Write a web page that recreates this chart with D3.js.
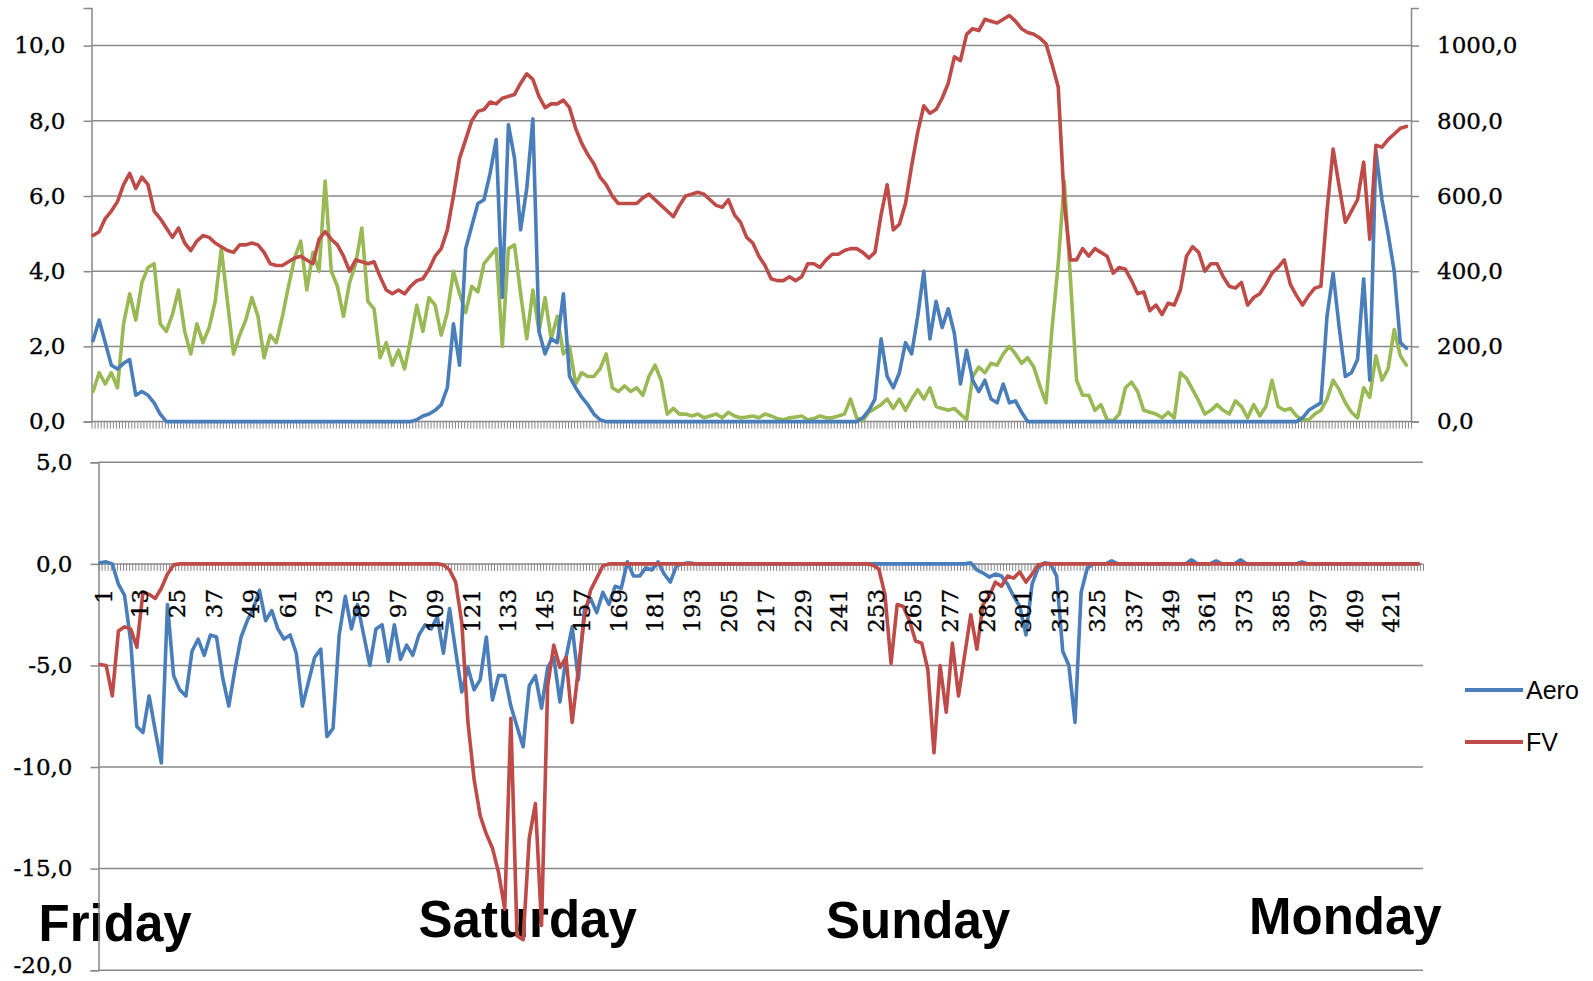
<!DOCTYPE html>
<html>
<head>
<meta charset="utf-8">
<script src="https://cdn.jsdelivr.net/npm/d3@7"></script>
<style>
  body { margin: 0; background: #fff; }
  svg { display: block; }
</style>
</head>
<body>
<script>
// ---- data: one sample every 2nd category (categories 1..432) ----
var nCategories = 432;
var sampleStep = 2;

// top panel, left axis (blue / green), right axis (red)
var blueTop = [
  2.15,2.7,2.1,1.5,1.4,1.55,1.65,0.7,0.8,0.7,
  0.5,0.2,0,0,0,0,0,0,0,0,
  0,0,0,0,0,0,0,0,0,0,
  0,0,0,0,0,0,0,0,0,0,
  0,0,0,0,0,0,0,0,0,0,
  0,0,0,0.05,0.15,0.2,0.3,0.45,0.9,2.6,
  1.5,4.6,5.2,5.8,5.9,6.6,7.5,3.3,7.9,7.0,
  5.1,6.2,8.05,2.4,1.8,2.2,2.1,3.4,1.2,0.9,
  0.65,0.45,0.2,0.05,0,0,0,0,0,0,
  0,0,0,0,0,0,0,0,0,0,
  0,0,0,0,0,0,0,0,0,0,
  0,0,0,0,0,0,0,0,0,0,
  0,0,0,0,0,0,0.1,0.3,0.6,2.2,
  1.2,0.9,1.3,2.1,1.8,2.8,4.0,2.2,3.2,2.5,
  3.0,2.35,1.0,1.9,1.1,0.8,1.1,0.6,0.5,1.0,
  0.5,0.55,0.25,0,0,0,0,0,0,0,
  0,0,0,0,0,0,0,0,0,0,
  0,0,0,0,0,0,0,0,0,0,
  0,0,0,0,0,0,0,0,0,0,
  0,0,0,0,0,0,0,0,0.1,0.3,
  0.4,0.5,2.8,3.95,2.5,1.2,1.3,1.65,3.8,1.1,
  7.2,5.9,5.0,4.0,2.1,1.95
];
var greenTop = [
  0.8,1.3,1.0,1.3,0.9,2.6,3.4,2.7,3.7,4.1,
  4.2,2.6,2.4,2.85,3.5,2.4,1.8,2.6,2.1,2.5,
  3.2,4.6,3.2,1.8,2.3,2.7,3.3,2.8,1.7,2.3,
  2.1,2.8,3.6,4.35,4.8,3.5,4.5,4.0,6.4,4.0,
  3.6,2.8,3.7,4.2,5.15,3.2,3.0,1.7,2.1,1.5,
  1.9,1.4,2.2,3.1,2.4,3.3,3.1,2.3,2.9,4.0,
  3.4,2.9,3.6,3.45,4.2,4.4,4.6,2.0,4.6,4.7,
  3.4,2.2,3.5,2.4,3.3,2.2,2.8,1.8,2.0,1.0,
  1.3,1.2,1.2,1.4,1.8,0.9,0.8,0.95,0.8,0.9,
  0.7,1.2,1.5,1.1,0.2,0.35,0.2,0.2,0.15,0.2,
  0.1,0.15,0.2,0.1,0.25,0.15,0.1,0.12,0.15,0.1,
  0.2,0.15,0.08,0.05,0.1,0.12,0.15,0.05,0.08,0.15,
  0.1,0.1,0.15,0.2,0.6,0.1,0.02,0.25,0.35,0.45,
  0.6,0.35,0.6,0.3,0.6,0.85,0.6,0.9,0.4,0.35,
  0.3,0.35,0.2,0.05,1.2,1.45,1.3,1.55,1.5,1.8,
  2.0,1.8,1.55,1.7,1.45,0.95,0.5,2.5,4.2,6.4,
  3.8,1.1,0.7,0.7,0.3,0.45,0.05,0.02,0.2,0.9,
  1.05,0.8,0.3,0.25,0.2,0.1,0.25,0.1,1.3,1.15,
  0.85,0.55,0.2,0.3,0.45,0.3,0.2,0.55,0.4,0.1,
  0.45,0.15,0.4,1.1,0.4,0.3,0.35,0.15,0.05,0.05,
  0.2,0.3,0.6,1.1,0.85,0.5,0.25,0.1,0.9,0.65,
  1.75,1.1,1.4,2.45,1.75,1.5
];
var redTop = [
  495,505,540,560,585,630,660,620,650,630,
  560,540,515,490,515,475,455,480,495,490,
  475,465,455,450,470,470,475,470,450,420,
  415,415,425,435,440,430,420,485,505,485,
  470,440,400,430,425,420,425,385,350,340,
  350,340,360,375,380,405,440,460,510,600,
  700,750,800,825,830,850,845,860,865,870,
  900,925,910,865,835,845,845,855,835,780,
  740,710,685,650,630,600,580,580,580,580,
  595,605,590,575,560,545,575,600,605,610,
  605,590,575,570,590,550,530,490,475,440,
  415,380,375,375,385,375,385,420,420,410,
  430,445,445,455,460,460,450,435,450,550,
  630,510,525,580,680,770,840,820,830,860,
  900,970,960,1030,1045,1040,1070,1065,1060,1070,
  1080,1065,1045,1035,1030,1020,1005,950,890,580,
  430,430,460,440,460,450,440,395,410,405,
  375,340,345,295,310,285,315,310,350,440,
  465,450,400,420,420,385,360,355,370,310,
  330,340,365,395,410,430,365,335,310,335,
  355,360,560,725,625,530,560,590,690,485,
  735,730,750,765,780,785
];

// bottom panel
var aeroBottom = [
  0.05,0.1,0,-1.0,-1.55,-3.8,-8.0,-8.3,-6.5,-8.2,
  -9.8,-2.0,-5.5,-6.2,-6.5,-4.3,-3.7,-4.5,-3.5,-3.6,
  -5.6,-7.0,-5.2,-3.6,-2.8,-2.2,-1.3,-2.8,-2.3,-3.2,
  -3.7,-3.5,-4.4,-7.0,-5.8,-4.6,-4.2,-8.5,-8.1,-3.5,
  -1.6,-3.2,-2.0,-3.5,-5.0,-3.2,-3.0,-4.8,-3.0,-4.7,
  -4.0,-4.5,-3.5,-3.0,-3.2,-2.6,-4.4,-2.2,-4.3,-6.3,
  -5.1,-6.2,-5.7,-3.6,-6.7,-5.5,-5.5,-7.0,-8.0,-9.0,
  -6.0,-5.5,-7.1,-5.1,-4.6,-6.8,-4.6,-3.1,-5.7,-2.2,
  -1.7,-2.4,-1.4,-2.0,-1.1,-1.2,0.1,-0.6,-0.6,-0.2,
  -0.3,0.1,-0.5,-0.9,-0.1,0,0.05,0,0,0,
  0,0,0,0,0,0,0,0,0,0,
  0,0,0,0,0,0,0,0,0,0,
  0,0,0,0,0,0,0,0,0,0,
  0,0,0,0,0,0,0,0,0,0,
  0,0,0.05,-0.3,-0.45,-0.65,-0.5,-0.6,-1.0,-1.6,
  -2.1,-3.5,-1.0,-0.2,0.05,0,-0.6,-4.3,-5.0,-7.8,
  -1.4,-0.2,0,0,0,0.15,0,0,0,0,
  0,0,0,0,0,0,0,0,0.2,0,
  0,0,0.15,0,0,0,0.2,0,0,0,
  0,0,0,0,0,0,0.1,0,0,0,
  0,0,0,0,0,0,0,0,0,0,
  0,0,0,0,0,0
];
var fvBottom = [
  -4.95,-5.0,-6.5,-3.3,-3.1,-3.2,-4.1,-1.4,-1.5,-1.7,
  -1.2,-0.5,-0.05,0,0,0,0,0,0,0,
  0,0,0,0,0,0,0,0,0,0,
  0,0,0,0,0,0,0,0,0,0,
  0,0,0,0,0,0,0,0,0,0,
  0,0,0,0,0,0,-0.05,-0.3,-0.9,-2.9,
  -7.8,-10.6,-12.4,-13.3,-14.0,-15.2,-17.0,-7.6,-18.3,-18.5,
  -13.5,-11.8,-17.8,-6.0,-4.0,-5.1,-4.6,-7.8,-5.2,-2.6,
  -1.3,-0.7,-0.1,0,0,0,0,0,0,0,
  0,0,0,0,0,0,0,0,0,0,
  0,0,0,0,0,0,0,0,0,0,
  0,0,0,0,0,0,0,0,0,0,
  0,0,0,0,0,0,-0.05,-0.25,-1.5,-4.9,
  -2.0,-2.1,-2.8,-3.8,-3.9,-5.2,-9.3,-5.0,-7.3,-3.9,
  -6.5,-4.5,-2.5,-4.2,-2.0,-1.6,-0.9,-1.1,-0.6,-0.7,
  -0.4,-0.9,-0.5,-0.05,0,0,0,0,0,0,
  0,0,0,0,0,0,0,0,0,0,
  0,0,0,0,0,0,0,0,0,0,
  0,0,0,0,0,0,0,0,0,0,
  0,0,0,0,0,0,0,0,0,0,
  0,0,0,0,0,0,0,0,0,0,
  0,0,0,0,0,0
];

// ticks and labels
var leftTicksTop = [0, 2, 4, 6, 8, 10];
var rightTicksTop = [0, 200, 400, 600, 800, 1000];
var leftTicksBottom = [5, 0, -5, -10, -15, -20];
var categoryLabels = [1,13,25,37,49,61,73,85,97,109,121,133,145,157,169,181,193,205,
  217,229,241,253,265,277,289,301,313,325,337,349,361,373,385,397,409,421];
var dayNames = ["Friday", "Saturday", "Sunday", "Monday"];
var legendNames = ["Aero", "FV"];

// ---- layout ----
var blue = "#4a7ebb", red = "#be4b48", green = "#98b954", grid = "#898989";
var dayX = [38.6, 418.6, 826, 1249];
var dayY = [941, 937, 938, 934];

var svg = d3.select("body").append("svg")
  .attr("width", 1593)
  .attr("height", 981);

var locale = d3.formatLocale({decimal: ",", thousands: "", grouping: [3], currency: ["", ""], minus: "-"});
var fmt = locale.format(".1f");

var xTop = d3.scaleLinear().domain([0.5, nCategories + 0.5]).range([91.5, 1411]);
var yLeft = d3.scaleLinear().domain([0, 11]).range([421.6, 8]);
var yRight = d3.scaleLinear().domain([0, 1100]).range([421.6, 8]);

var xBot = d3.scaleLinear().domain([0.5, nCategories + 0.5]).range([98.5, 1423]);
var yBot = d3.scaleLinear().domain([-20, 5]).range([970.2, 462.3]);

function cat(k) { return k * sampleStep + 1; }

// day labels sit under the lines
svg.append("g").selectAll("text")
  .data(dayNames)
  .enter().append("text")
  .attr("x", function(d, i) { return dayX[i]; })
  .attr("y", function(d, i) { return dayY[i]; })
  .attr("font-family", "Liberation Sans, Arial, sans-serif")
  .attr("font-weight", "bold")
  .attr("font-size", 51)
  .attr("fill", "#000")
  .text(function(d) { return d; });

// ---- top panel grid and axes ----
var topG = svg.append("g");
topG.selectAll("line.grid")
  .data(leftTicksTop)
  .enter().append("line")
  .attr("class", "grid")
  .attr("x1", xTop.range()[0]).attr("x2", xTop.range()[1])
  .attr("y1", function(d) { return yLeft(d); })
  .attr("y2", function(d) { return yLeft(d); })
  .attr("stroke", grid).attr("stroke-width", 1.5);

var axL = topG.append("g")
  .attr("transform", "translate(" + xTop.range()[0] + ",0)")
  .call(d3.axisLeft(yLeft).tickValues(leftTicksTop).tickFormat(fmt).tickSize(8).tickPadding(18));
var axR = topG.append("g")
  .attr("transform", "translate(" + xTop.range()[1] + ",0)")
  .call(d3.axisRight(yRight).tickValues(rightTicksTop).tickFormat(fmt).tickSize(8).tickPadding(18));
var axXTop = topG.append("g")
  .attr("transform", "translate(0," + yLeft(0) + ")")
  .call(d3.axisBottom(xTop).tickValues(d3.range(0.5, nCategories + 1, 1)).tickSize(7).tickFormat(""));

// ---- bottom panel grid and axes ----
var botG = svg.append("g");
botG.selectAll("line.grid")
  .data(leftTicksBottom)
  .enter().append("line")
  .attr("class", "grid")
  .attr("x1", xBot.range()[0]).attr("x2", xBot.range()[1])
  .attr("y1", function(d) { return yBot(d); })
  .attr("y2", function(d) { return yBot(d); })
  .attr("stroke", grid).attr("stroke-width", 1.5);

var axLB = botG.append("g")
  .attr("transform", "translate(" + xBot.range()[0] + ",0)")
  .call(d3.axisLeft(yBot).tickValues(leftTicksBottom).tickFormat(fmt).tickSize(8).tickPadding(18));
var axXBot = botG.append("g")
  .attr("transform", "translate(0," + yBot(0) + ")")
  .call(d3.axisBottom(xBot).tickValues(d3.range(0.5, nCategories + 1, 1)).tickSize(7).tickFormat(""));

[axL, axR, axXTop, axLB, axXBot].forEach(function(a) {
  a.selectAll("path.domain").attr("stroke", grid).attr("stroke-width", 1.5);
  a.selectAll(".tick line").attr("stroke", grid).attr("stroke-width", 1);
  a.selectAll("text")
    .attr("font-family", "DejaVu Serif, serif")
    .attr("font-size", 23)
    .attr("fill", "#000")
    .attr("stroke", "#000")
    .attr("stroke-width", 0.35);
});
[axL, axR, axLB].forEach(function(a) {
  a.selectAll(".tick line").attr("stroke-width", 1.5);
});
axXTop.select("path.domain").remove();
axXBot.select("path.domain").remove();
// keep the lowest label inside the picture
axLB.selectAll(".tick text").filter(function(d) { return d === -20; }).attr("dy", "0.1em");

// ---- series ----
function drawLine(g, values, x, y, color) {
  var line = d3.line()
    .x(function(d, k) { return x(cat(k)); })
    .y(function(d) { return y(d); });
  g.append("path")
    .datum(values)
    .attr("d", line)
    .attr("fill", "none")
    .attr("stroke", color)
    .attr("stroke-width", 3.6)
    .attr("stroke-linejoin", "round")
    .attr("stroke-linecap", "round");
}

drawLine(topG, greenTop, xTop, yLeft, green);
drawLine(topG, blueTop, xTop, yLeft, blue);
drawLine(topG, redTop, xTop, yRight, red);

drawLine(botG, aeroBottom, xBot, yBot, blue);
drawLine(botG, fvBottom, xBot, yBot, red);

// category labels, rotated, drawn over the lines
var labAxis = svg.append("g")
  .attr("transform", "translate(0," + yBot(0) + ")")
  .call(d3.axisBottom(xBot).tickValues(categoryLabels).tickSize(0).tickFormat(d3.format("d")));
labAxis.select("path.domain").remove();
labAxis.selectAll("text")
  .attr("transform", "rotate(-90)")
  .attr("x", -25)
  .attr("y", 3)
  .attr("dy", "0.35em")
  .style("text-anchor", "end")
  .attr("font-family", "DejaVu Serif, serif")
  .attr("font-size", 23)
  .attr("fill", "#000")
  .attr("stroke", "#000")
  .attr("stroke-width", 0.35);

// ---- legend ----
var legend = svg.append("g");
var legendColors = [blue, red];
var legendY = [690, 742];
legendNames.forEach(function(name, i) {
  legend.append("line")
    .attr("x1", 1465).attr("x2", 1523)
    .attr("y1", legendY[i]).attr("y2", legendY[i])
    .attr("stroke", legendColors[i]).attr("stroke-width", 4);
  legend.append("text")
    .attr("x", 1526)
    .attr("y", legendY[i])
    .attr("dy", "0.35em")
    .attr("font-family", "Liberation Sans, Arial, sans-serif")
    .attr("font-size", 25)
    .attr("fill", "#000")
    .text(name);
});
</script>
</body>
</html>
